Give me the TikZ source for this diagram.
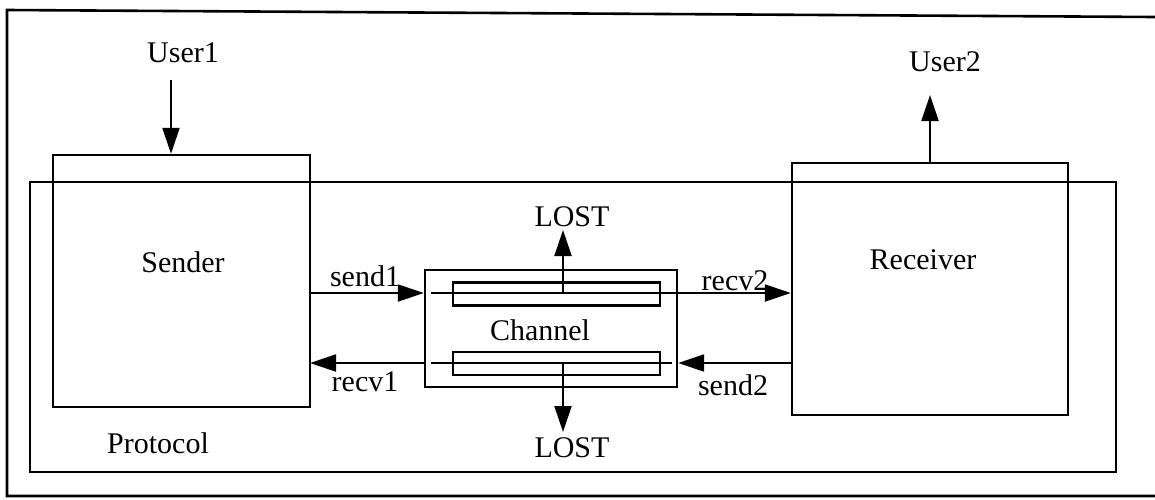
\documentclass[tikz,border=0pt]{standalone}
\usepackage{fontspec}
\setmainfont{Liberation Serif}
\usetikzlibrary{arrows.meta}
\begin{document}
\begin{tikzpicture}[x=0.5pt,y=-0.5pt,
  every node/.style={font=\fontsize{15pt}{18pt}\selectfont, inner sep=0pt},
  box/.style={draw, line width=1.2pt, rectangle, inner sep=0pt},
  bar/.style={draw, line width=1.1pt, rectangle, inner sep=0pt, minimum width=103.5pt, minimum height=11.5pt},
  flow/.style={line width=1.1pt, -{Triangle[length=13pt,width=8.5pt]}},
  plain/.style={line width=1.1pt}]
\useasboundingbox (0,0) rectangle (1155,499);
% outer frame (right side outside the picture)
\draw[line width=1.3pt] (1155,17) -- (7,10) -- (7,496) -- (1155,496);
% boxes
\node[box, minimum width=543pt, minimum height=145pt] (protocol) at (573,327) {};
\node[box, minimum width=128.5pt, minimum height=126pt] (sender) at (181.5,281) {};
\node[box, minimum width=138pt, minimum height=126pt] (receiver) at (930,289) {};
\node[box, minimum width=126pt, minimum height=58.5pt] (channel) at (551,328.5) {};
\node[bar] (ubar) at (556.5,294) {};
\node[bar] (lbar) at (556.5,363.5) {};
% texts
\node (user1) at (183,53) {User1};
\node (user2) at (945,62) {User2};
\node (sendertxt) at (183,262) {Sender};
\node (receivertxt) at (923,260) {Receiver};
\node (protocoltxt) at (158,443) {Protocol};
\node (channeltxt) at (540,330) {Channel};
\node (lostu) at (572,217) {LOST};
\node (lostd) at (572,448) {LOST};
\node (send1) at (365,276) {send1};
\node (recv1) at (365,382) {recv1};
\node (recv2) at (735,281) {recv2};
\node (send2) at (733,385) {send2};
% coordinates
\coordinate (u1) at (171,80);
\coordinate (u2tip) at (930,95);
\coordinate (up1) at (310,293);
\coordinate (ci1) at (431,293);
\coordinate (lo1) at (310,363);
\coordinate (ci2) at (672,363);
\coordinate (lu) at (563,294);
\coordinate (lut) at (563,230);
\coordinate (ld) at (563,363);
\coordinate (ldt) at (563,432);
% connectors
\draw[flow] (u1) -- (u1 |- sender.north);
\draw[flow] (receiver.north) -- (u2tip);
\draw[flow] (up1) -- (up1 -| channel.west);
\draw[flow] (ci1) -- (ci1 -| receiver.west);
\draw[flow] (lo1 -| receiver.west) -- (ci2 -| channel.east);
\draw[plain] (ci2) -- (ci2 -| ci1);
\draw[flow] (lo1 -| channel.west) -- (lo1);
\draw[flow] (lu) -- (lut);
\draw[flow] (ld) -- (ldt);
\end{tikzpicture}
\end{document}
